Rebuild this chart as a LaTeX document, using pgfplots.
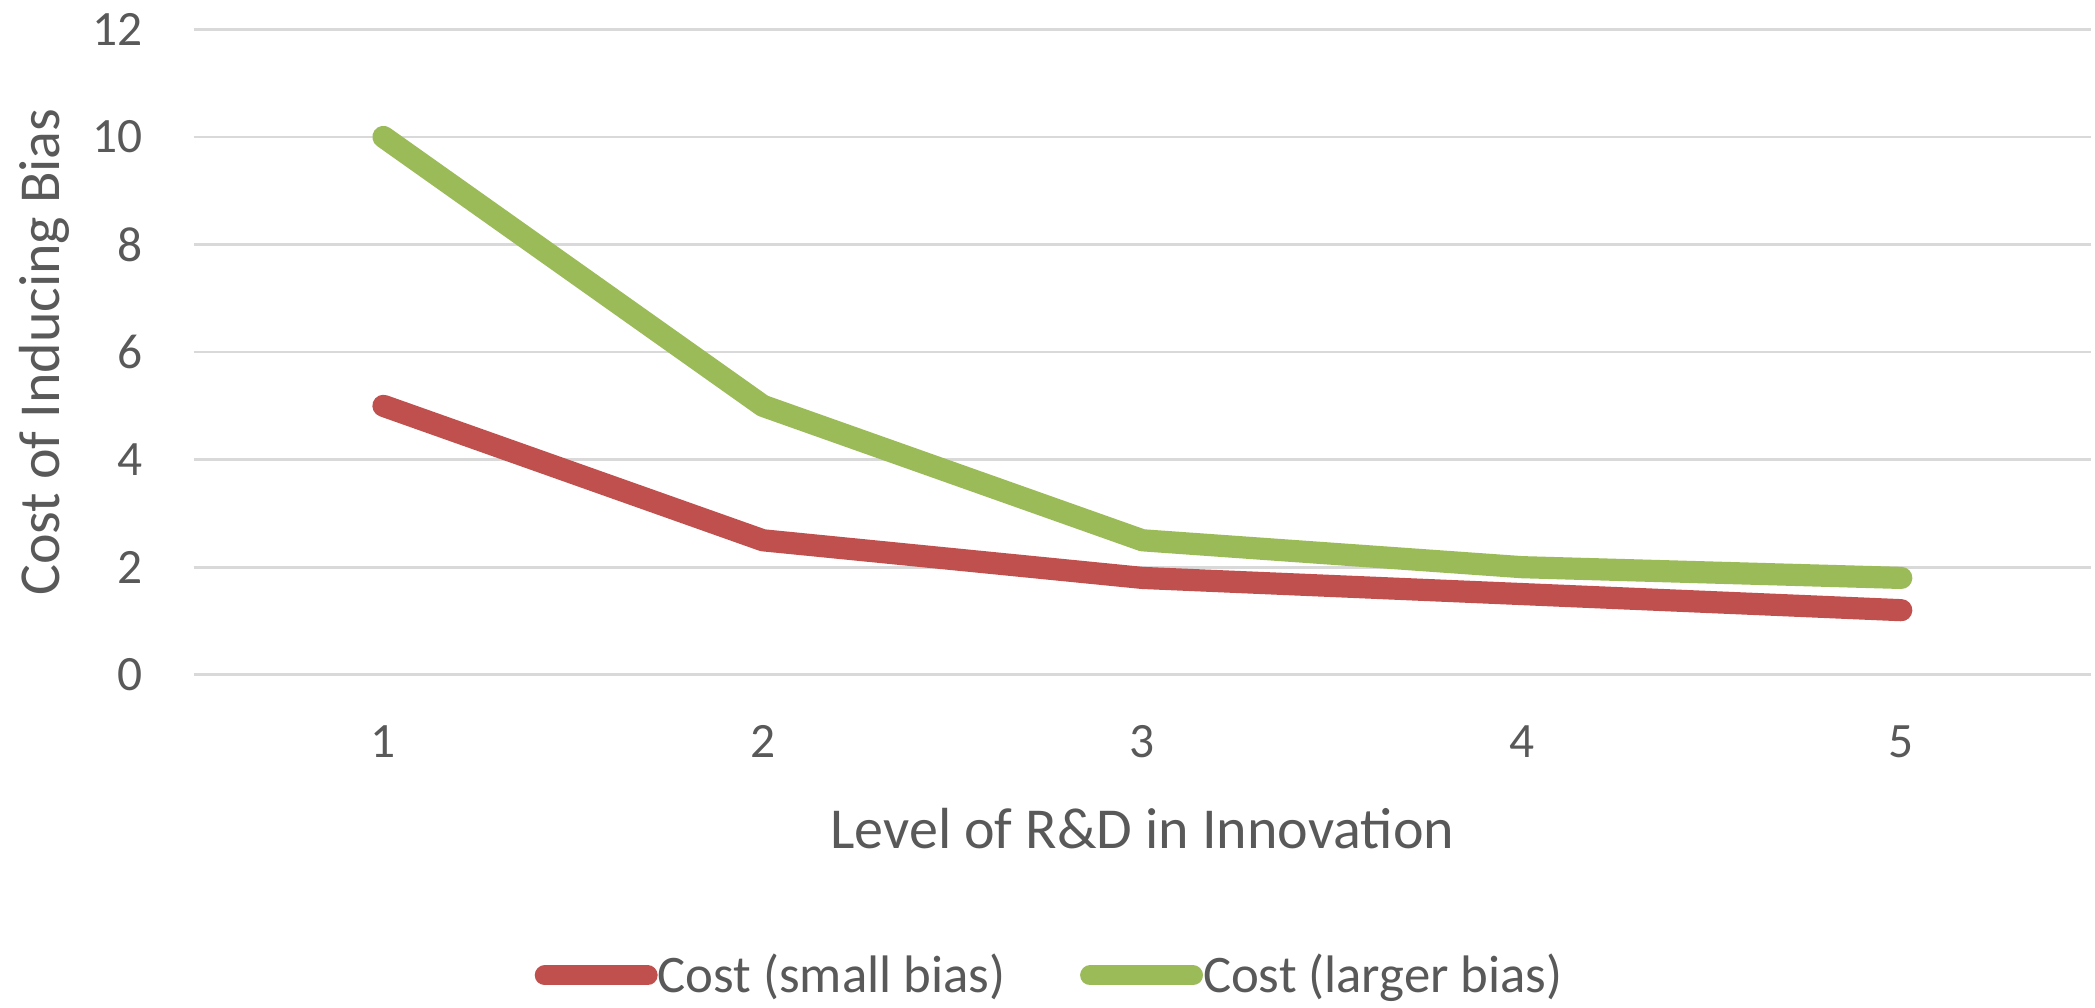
\documentclass[border=0pt]{standalone}
\usepackage{pgfplots}
\pgfplotsset{compat=1.18}
\usepackage{fontspec}
\setmainfont{Carlito}
\definecolor{txt}{HTML}{595959}
\definecolor{cred}{HTML}{C0504D}
\definecolor{cgreen}{HTML}{9BBB59}
\definecolor{gridc}{HTML}{D9D9D9}
\begin{document}
\begin{tikzpicture}
\begin{axis}[
  at={(0,0)}, anchor=south west,
  scale only axis, width=710pt, height=241.5pt,
  xmin=0.5, xmax=5.5, ymin=0, ymax=12,
  xtick={1,2,3,4,5}, ytick={0,2,4,6,8,10,12},
  axis line style={draw=none},
  major tick length=0pt,
  ymajorgrids, grid style={draw=gridc, line width=1pt},
  /pgf/number format/assume math mode=true,
  tick label style={font=\fontsize{18.5}{20}\selectfont, text=txt},
  xticklabel style={anchor=center, yshift=-25pt},
  yticklabel style={anchor=east, inner sep=0pt, xshift=-19pt},
  xlabel={Level of R\&D in Innovation},
  ylabel={Cost of Inducing Bias},
  label style={font=\fontsize{21.7}{26}\selectfont, text=txt},
  xlabel style={at={(axis description cs:0.5,-0.238)}, anchor=center},
  ylabel style={at={(axis description cs:-0.0789,0.5)}, anchor=center},
  legend style={at={(axis description cs:0.452,-0.466)}, anchor=center, draw=none,
    font=\fontsize{19.75}{22}\selectfont, text=txt, legend columns=2,
    /tikz/every odd column/.append style={column sep=-2pt},
    /tikz/every even column/.append style={column sep=26pt}},
  legend image code/.code={\draw[#1, line width=7.5pt, line cap=round] (3.75pt,0pt) -- (42.25pt,0pt);},
]
\addplot[cred, line width=8.3pt, line cap=round, line join=round] coordinates {(1,5) (2,2.5) (3,1.8) (4,1.5) (5,1.2)};
\addlegendentry{Cost (small bias)}
\addplot[cgreen, line width=8.3pt, line cap=round, line join=round] coordinates {(1,10) (2,5) (3,2.5) (4,2.0) (5,1.8)};
\addlegendentry{Cost (larger bias)}
\end{axis}
\pgfresetboundingbox
\path (-72.5pt,-124.5pt) rectangle (711.5pt,252.5pt);
\end{tikzpicture}
\end{document}
